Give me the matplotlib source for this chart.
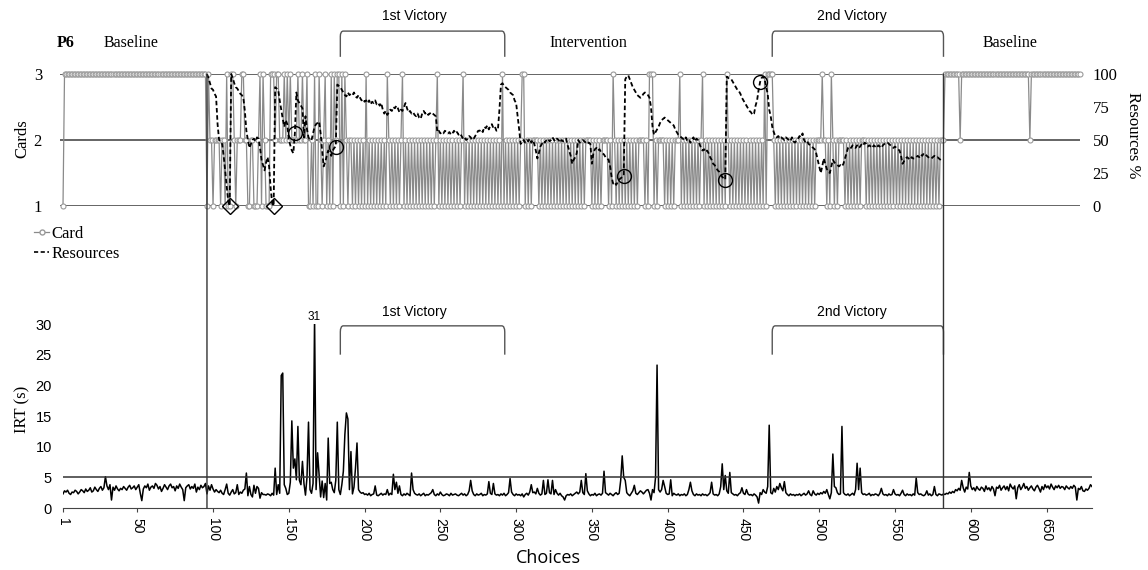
import numpy as np
import matplotlib
matplotlib.use('Agg')
import matplotlib.pyplot as plt
from matplotlib.lines import Line2D
from matplotlib.patches import ConnectionPatch, PathPatch
from matplotlib.path import Path

#================================================================================================
# Data
# Card chosen at every choice (1, 2 or 3), one character per choice, starting at choice 1
card_rows = [
    "1333333333 3333333333 3333333333 3333333333 3333333333",   # 1-50
    "3333333333 3333333333 3333333333 3333333333 3333313221",   # 51-100
    "2222122131 1332122233 2211221112 3132111333 2332223232",   # 101-150
    "3222232232 2311213113 2123121313 2331313212 2121212121",   # 151-200
    "3121212121 2121321212 1212312121 2121212121 2121212312",   # 201-250
    "1212121212 1212312121 2121212121 2121212121 3121212121",   # 251-300
    "2123312121 2222121212 1212121212 1212121212 1212122221",   # 301-350
    "2121212222 1213212121 2121212121 2222121333 1212222121",   # 351-400
    "2121222312 1212121212 1231212121 2121212132 1212121212",   # 401-450
    "1212121212 1213133332 1212121212 1212121212 1212121222",   # 451-500
    "2322121321 2122221212 1212121222 1212121212 1212121212",   # 501-550
    "1212121212 1212121212 1212121212 2233333333 3323333333",   # 551-600
    "3333333333 3333333333 3333333333 3333333323 3333333333",   # 601-650
    "3333333333 3333333333 33",                                 # 651-672
]

# Resources % from choice 96 on (one value per choice)
res_start = 96
resources = [
    100, 97, 93, 89, 88, 85, 83, 62, 50, 48,
    47, 38, 27, 15, 4, 0, 100, 97, 93, 90,
    89, 87, 85, 84, 82, 72, 57, 50, 44, 47,
    50, 51, 49, 52, 51, 44, 35, 31, 27, 33,
    37, 30, 14, 2, 0, 90, 89, 88, 80, 73,
    66, 60, 65, 62, 50, 46, 42, 40, 55, 86,
    80, 78, 76, 74, 52, 68, 58, 52, 50, 50,
    55, 60, 62, 63, 64, 55, 42, 30, 33, 38,
    42, 40, 38, 42, 44, 45, 92, 91, 90, 88,
    86, 84, 83, 86, 84, 85, 84, 86, 83, 82,
    84, 82, 80, 81, 79, 80, 78, 80, 77, 79,
    78, 80, 77, 78, 76, 78, 73, 70, 72, 69,
    71, 73, 72, 75, 74, 76, 74, 71, 73, 72,
    75, 78, 74, 71, 72, 70, 71, 69, 68, 70,
    67, 66, 70, 72, 70, 71, 69, 70, 71, 70,
    69, 68, 56, 57, 55, 56, 55, 57, 56, 55,
    56, 54, 55, 57, 55, 56, 54, 55, 53, 51,
    52, 50, 51, 53, 52, 50, 51, 53, 55, 57,
    57, 58, 56, 60, 59, 61, 58, 61, 62, 59,
    60, 57, 58, 73, 92, 93, 91, 90, 89, 88,
    86, 85, 84, 80, 78, 68, 58, 47, 49, 50,
    48, 50, 49, 51, 48, 50, 47, 42, 36, 40,
    45, 47, 49, 48, 50, 51, 49, 50, 52, 50,
    49, 51, 50, 48, 50, 49, 50, 51, 46, 42,
    38, 32, 35, 37, 40, 50, 48, 49, 50, 49,
    48, 47, 48, 47, 32, 40, 43, 44, 42, 43,
    41, 40, 39, 37, 36, 35, 30, 22, 17, 18,
    16, 18, 20, 21, 22, 23, 96, 98, 99, 96,
    93, 90, 88, 86, 84, 83, 82, 83, 85, 86,
    85, 84, 82, 75, 60, 54, 56, 58, 60, 63,
    65, 66, 67, 66, 65, 64, 63, 62, 61, 58,
    56, 54, 53, 52, 51, 50, 52, 49, 50, 48,
    50, 52, 49, 51, 50, 47, 44, 42, 43, 41,
    42, 40, 37, 35, 32, 31, 29, 27, 26, 24,
    22, 21, 20, 98, 97, 96, 96, 94, 92, 90,
    88, 87, 85, 82, 80, 78, 76, 74, 72, 71,
    69, 70, 76, 80, 88, 94, 97, 98, 96, 90,
    85, 73, 68, 60, 56, 53, 52, 53, 51, 52,
    51, 50, 52, 51, 50, 49, 52, 49, 48, 50,
    51, 53, 52, 55, 50, 48, 49, 47, 46, 45,
    44, 43, 40, 35, 30, 25, 30, 36, 32, 28,
    26, 25, 30, 35, 33, 32, 31, 30, 31, 30,
    32, 36, 40, 44, 45, 44, 46, 45, 44, 46,
    44, 45, 47, 46, 48, 47, 45, 46, 45, 44,
    46, 45, 44, 46, 45, 44, 46, 47, 48, 48,
    47, 46, 45, 44, 45, 44, 43, 42, 38, 32,
    34, 36, 37, 36, 35, 37, 36, 36, 37, 38,
    37, 39, 38, 40, 39, 38, 37, 36, 36, 37,
    38, 37, 37, 36, 35, 34,
]
# choices marked on the resources line
res_diamonds = [111, 140]
res_circles = [154, 181, 371, 438, 461]

# Inter-response time (s) per choice, starting at choice 1
irt = [
    2.3, 2.8, 2.6, 2.9, 2.4, 2.2, 2.6, 2.5, 2.9, 2.7, 2.3, 2.6, 3.0, 2.8, 2.5, 3.1, 2.7, 2.9, 3.3, 2.6,
    2.8, 3.4, 3.0, 2.7, 3.2, 3.5, 2.9, 3.3, 5.1, 3.6, 3.0, 3.8, 1.3, 3.4, 2.9, 3.6, 3.1, 2.8, 3.2, 3.0,
    3.5, 3.2, 2.9, 3.4, 3.7, 3.1, 3.3, 3.6, 3.0, 3.4, 3.8, 2.4, 1.2, 3.1, 3.6, 3.3, 3.9, 2.9, 3.4, 3.6,
    3.2, 4.0, 3.7, 3.1, 3.5, 2.7, 3.2, 3.8, 3.4, 3.0, 3.6, 3.9, 3.3, 3.5, 2.8, 3.6, 3.2, 3.9, 3.4, 3.0,
    1.2, 3.3, 3.6, 3.8, 3.1, 3.5, 3.2, 3.9, 2.6, 3.4, 3.0, 3.7, 3.3, 3.5, 4.0, 2.3, 3.6, 2.9, 3.8, 3.1,
    2.6, 3.0, 2.7, 2.5, 2.9, 2.4, 2.2, 3.0, 3.9, 2.4, 2.1, 2.6, 3.0, 2.3, 2.5, 3.8, 2.2, 2.6, 2.4, 2.9,
    3.1, 5.7, 2.0, 3.5, 2.2, 1.8, 3.7, 2.4, 3.5, 3.2, 1.6, 2.5, 2.2, 2.2, 2.1, 2.3, 2.2, 2.0, 2.4, 2.1,
    6.5, 2.2, 3.8, 2.4, 21.6, 22.0, 3.8, 3.2, 2.2, 2.4, 4.2, 14.2, 6.5, 8.0, 4.6, 13.3, 4.5, 3.8, 7.6, 4.0,
    2.1, 5.0, 14.0, 3.0, 2.4, 4.0, 31.0, 3.0, 9.0, 5.5, 1.8, 4.4, 1.7, 4.0, 1.3, 11.4, 4.0, 4.2, 3.0, 2.5,
    4.5, 14.0, 3.0, 2.2, 3.8, 6.0, 12.0, 15.5, 14.5, 3.0, 9.2, 2.3, 3.4, 6.5, 10.6, 3.0, 2.6, 2.4, 2.5, 2.2,
    2.3, 2.1, 2.4, 2.0, 2.2, 2.3, 3.6, 2.1, 2.0, 2.2, 2.4, 2.1, 2.3, 2.2, 3.0, 2.1, 2.4, 2.2, 5.5, 3.0,
    4.2, 2.4, 3.6, 2.2, 2.0, 2.3, 2.1, 2.4, 2.2, 2.0, 5.7, 3.0, 2.4, 2.2, 2.1, 2.3, 2.0, 2.2, 2.4, 2.0,
    2.2, 2.1, 2.3, 2.5, 3.0, 2.2, 2.0, 2.3, 2.1, 2.6, 2.2, 2.0, 2.1, 2.3, 2.2, 2.0, 2.4, 2.1, 2.2, 2.3,
    2.1, 2.0, 2.2, 2.4, 2.1, 2.3, 2.0, 2.2, 2.8, 4.5, 2.8, 2.2, 2.0, 2.3, 2.1, 2.2, 2.4, 2.0, 2.2, 2.1,
    2.3, 4.3, 2.4, 2.2, 4.0, 2.3, 2.1, 2.2, 2.0, 2.3, 2.1, 2.4, 2.0, 2.2, 2.5, 4.8, 2.6, 2.2, 2.0, 2.3,
    2.1, 2.2, 2.0, 2.3, 1.8, 2.2, 2.4, 2.1, 2.6, 3.8, 2.5, 2.6, 2.3, 3.2, 2.4, 2.1, 2.3, 4.5, 2.2, 2.4,
    4.6, 2.5, 2.3, 4.5, 2.2, 3.0, 2.4, 2.1, 2.4, 2.0, 1.8, 1.3, 2.0, 2.2, 2.1, 2.3, 2.0, 2.2, 2.4, 2.6,
    2.3, 2.6, 4.5, 2.5, 2.2, 5.6, 2.8, 2.3, 2.0, 2.2, 2.1, 2.4, 2.0, 2.2, 2.3, 2.1, 2.4, 6.0, 2.5, 2.3,
    2.1, 2.4, 2.2, 2.0, 2.3, 2.5, 2.2, 2.4, 4.5, 8.5, 5.0, 4.5, 2.5, 2.2, 2.0, 2.4, 2.8, 3.7, 2.4, 2.2,
    2.5, 2.8, 2.6, 2.3, 2.6, 2.9, 3.0, 2.4, 1.3, 3.0, 2.5, 5.0, 23.3, 3.0, 2.6, 3.0, 4.5, 3.5, 2.4, 2.2,
    2.3, 4.6, 2.0, 2.4, 2.2, 2.1, 2.3, 2.0, 2.2, 2.1, 2.3, 2.0, 2.2, 3.0, 4.2, 2.8, 2.2, 2.0, 2.3, 2.1,
    2.2, 2.0, 2.3, 2.1, 2.2, 2.0, 2.2, 2.5, 4.2, 2.3, 2.1, 2.2, 2.0, 2.3, 3.5, 7.2, 3.0, 5.3, 2.8, 2.4,
    5.8, 2.5, 2.3, 2.1, 2.2, 2.0, 2.3, 2.5, 3.3, 2.4, 2.2, 3.0, 2.3, 2.1, 2.2, 2.0, 2.3, 2.1, 1.8, 0.8,
    2.5, 2.2, 3.0, 2.6, 2.4, 3.5, 13.5, 2.5, 2.3, 3.2, 2.6, 3.5, 3.0, 4.0, 3.3, 2.8, 4.3, 2.5, 2.2, 2.0,
    2.3, 2.1, 2.2, 2.0, 2.2, 2.1, 2.3, 2.0, 2.2, 2.4, 2.1, 2.3, 2.8, 2.2, 2.0, 2.8, 2.3, 2.1, 2.4, 2.2,
    2.5, 2.3, 2.7, 2.4, 3.0, 2.2, 1.5, 2.5, 8.8, 3.5, 3.3, 2.5, 2.2, 2.3, 13.3, 2.5, 2.2, 2.1, 2.3, 2.0,
    2.2, 2.4, 2.1, 3.0, 7.3, 3.0, 6.5, 2.5, 2.2, 2.3, 2.1, 2.2, 2.4, 2.0, 2.2, 2.1, 2.3, 2.2, 2.0, 2.4,
    3.2, 2.3, 2.1, 2.2, 2.0, 2.3, 2.1, 2.2, 3.0, 2.3, 2.1, 2.2, 2.0, 2.4, 2.9, 2.2, 2.0, 2.3, 2.1, 2.2,
    2.0, 2.3, 2.1, 4.9, 2.5, 2.2, 2.3, 2.1, 2.0, 2.2, 2.8, 2.1, 2.3, 2.0, 2.2, 3.5, 2.2, 2.0, 2.3, 2.2,
    2.1, 2.3, 2.2, 2.4, 2.3, 2.6, 2.4, 2.7, 2.5, 3.0, 2.8, 3.2, 2.9, 4.5, 3.3, 2.6, 3.4, 3.1, 5.8, 3.6,
    3.0, 3.3, 2.8, 3.5, 3.1, 2.9, 3.4, 3.2, 2.7, 3.6, 3.0, 3.3, 2.8, 3.5, 3.1, 2.0, 3.4, 3.2, 3.7, 2.9,
    3.3, 3.6, 3.0, 3.5, 2.8, 3.9, 3.4, 3.1, 3.6, 1.5, 3.3, 3.8, 3.0, 3.4, 4.0, 3.2, 3.5, 2.9, 3.3, 3.6,
    3.1, 2.8, 3.4, 3.7, 3.2, 2.6, 3.5, 3.0, 3.8, 3.3, 3.6, 3.1, 3.9, 3.4, 3.0, 3.6, 3.3, 3.7, 3.2, 3.5,
    3.4, 3.0, 3.6, 3.3, 3.1, 3.5, 3.2, 3.7, 3.4, 1.3, 3.2, 3.0, 3.5, 2.8, 2.7, 3.1, 2.9, 3.2, 3.8, 3.5,
]

# Phase changes and victory periods (choice numbers)
phase_changes = [96, 582]
victories = [('1st Victory', 184, 292.5, 233), ('2nd Victory', 469, 582, 521.5)]
phase_labels = [('Baseline', 46), ('Intervention', 348), ('Baseline', 626)]
choice_ticks = [1, 50, 100, 150, 200, 250, 300, 350, 400, 450, 500, 550, 600, 650]

SERIF = 'Liberation Serif'
SANS = 'Liberation Sans'
W, H = 1148, 570


#================================================================================================
def axRect(left, top, right, bottom):
    # pixel box -> figure fraction
    return [left / W, 1 - bottom / H, (right - left) / W, (bottom - top) / H]


def drawBracket(ax, x0, x1, yBottom, yTop, dx, dy):
    verts = [(x0, yBottom), (x0, yTop - dy), (x0, yTop), (x0 + dx, yTop),
             (x1 - dx, yTop), (x1, yTop), (x1, yTop - dy), (x1, yBottom)]
    codes = [Path.MOVETO, Path.LINETO, Path.CURVE3, Path.CURVE3,
             Path.LINETO, Path.CURVE3, Path.CURVE3, Path.LINETO]
    patch = PathPatch(Path(verts, codes), fill=False, edgecolor='#555555', lw=1.0, clip_on=False)
    ax.add_patch(patch)


#================================================================================================
def main():
    card = [int(ch) for ch in ''.join(''.join(card_rows).split())]
    cardX = np.arange(1, len(card) + 1)
    resX = np.arange(res_start, res_start + len(resources))
    irtX = np.arange(1, len(irt) + 1)

    fig = plt.figure(figsize=(W / 100, H / 100), dpi=100)

    # bottom panel: IRT
    axBot = fig.add_axes(axRect(63, 324, 1092, 508))
    axBot.set_xlim(1, 680)
    axBot.set_ylim(0, 30)
    axBot.plot(irtX, irt, color='black', lw=1.1)
    axBot.axhline(5, color='#333333', lw=1.1)
    for side in ['top', 'right', 'left']:
        axBot.spines[side].set_visible(False)
    axBot.spines['bottom'].set_color('#444444')
    axBot.set_xticks(choice_ticks)
    axBot.set_xticklabels([str(t) for t in choice_ticks], rotation=270, family=SANS, fontsize=10)
    axBot.set_yticks([0, 5, 10, 15, 20, 25, 30])
    axBot.tick_params(axis='y', length=0, pad=8, labelsize=10.5)
    axBot.tick_params(axis='x', length=3, color='#444444', pad=4)
    for lab in axBot.get_yticklabels():
        lab.set_family(SANS)
    peak = int(np.argmax(irt))
    axBot.text(irtX[peak] - 0.5, 31.2, '%d' % irt[peak], family=SANS, fontsize=8.5,
               ha='center', va='center', clip_on=False)

    # top panel: cards + resources, same choice scale as the bottom panel
    left, right = 60, 1080
    scale = (1092 - 63) / 679.0
    axTop = fig.add_axes(axRect(left, 74, right, 206))
    axTop.set_xlim(1 + (left - 63) / scale, 1 + (right - 63) / scale)
    axTop.set_ylim(1, 3)
    for y in [1, 2, 3]:
        axTop.axhline(y, color='#3a3a3a', lw=1.1, zorder=1)
    axTop.plot(cardX, card, color='#8a8a8a', lw=0.9, marker='o', ms=3.6, mfc='white',
               mec='#9a9a9a', mew=0.8, clip_on=False, zorder=2)
    for side in axTop.spines:
        axTop.spines[side].set_visible(False)
    axTop.set_yticks([1, 2, 3])
    axTop.set_xticks([])
    axTop.tick_params(axis='y', length=0, pad=13, labelsize=12)
    for lab in axTop.get_yticklabels():
        lab.set_family(SERIF)

    axRes = axTop.twinx()
    axRes.set_ylim(0, 100)
    axRes.plot(resX, resources, color='black', lw=1.3, ls=(0, (2.5, 1.5)), clip_on=False, zorder=3)
    dIdx = [c - res_start for c in res_diamonds]
    cIdx = [c - res_start for c in res_circles]
    axRes.plot(resX[dIdx], np.array(resources)[dIdx], ls='none', marker='D', ms=8,
               mfc='none', mec='black', mew=1.0, clip_on=False)
    axRes.plot(resX[cIdx], np.array(resources)[cIdx], ls='none', marker='o', ms=10,
               mfc='none', mec='black', mew=1.0, clip_on=False)
    for side in axRes.spines:
        axRes.spines[side].set_visible(False)
    axRes.set_yticks([0, 25, 50, 75, 100])
    axRes.tick_params(axis='y', length=0, pad=9, labelsize=12)
    for lab in axRes.get_yticklabels():
        lab.set_family(SERIF)

    # phase change lines through both panels
    for c in phase_changes:
        con = ConnectionPatch(xyA=(c, 3), coordsA=axTop.transData, xyB=(c, 0), coordsB=axBot.transData,
                              color='#333333', lw=1.0)
        fig.add_artist(con)

    # victory brackets
    for name, x0, x1, xt in victories:
        drawBracket(axTop, x0, x1, 3.26, 3.65, 2.0, 0.08)
        axTop.text(xt, 3.88, name, family=SANS, fontsize=10, ha='center', va='center')
        drawBracket(axBot, x0, x1, 25.0, 29.7, 2.0, 1.0)
        axBot.text(xt, 32.0, name, family=SANS, fontsize=10, ha='center', va='center')

    for name, xc in phase_labels:
        axTop.text(xc, 3.47, name, family=SERIF, fontsize=11.5, ha='center', va='center')
    axTop.text(2.6, 3.47, 'P6', family=SERIF, fontsize=11.5, weight='bold', ha='center', va='center')

    # axis titles
    fig.text(22 / W, 1 - 139 / H, 'Cards', family=SERIF, fontsize=12, rotation=90, ha='center', va='center')
    fig.text(1133 / W, 1 - 135 / H, 'Resources %', family=SERIF, fontsize=12, rotation=270,
             ha='center', va='center')
    fig.text(22 / W, 1 - 409 / H, 'IRT (s)', family=SERIF, fontsize=12, rotation=90, ha='center', va='center')
    fig.text(548 / W, 1 - 558 / H, 'Choices', family='Open Sans', fontsize=13, ha='center', va='center')

    # legend
    handles = [Line2D([], [], color='#8a8a8a', lw=0.9, marker='o', ms=3.6, mfc='white', mec='#9a9a9a'),
               Line2D([], [], color='black', lw=1.2, ls=(0, (2.5, 1.5)))]
    fig.legend(handles, ['Card', 'Resources'], loc='upper left', bbox_to_anchor=(34 / W, 1 - 226 / H),
               frameon=False, prop={'family': SERIF, 'size': 12}, handlelength=0.9,
               handletextpad=0.15, borderpad=0, borderaxespad=0, labelspacing=0.25)

    fig.savefig('out.png', dpi=100)


if __name__ == "__main__":
    main()
